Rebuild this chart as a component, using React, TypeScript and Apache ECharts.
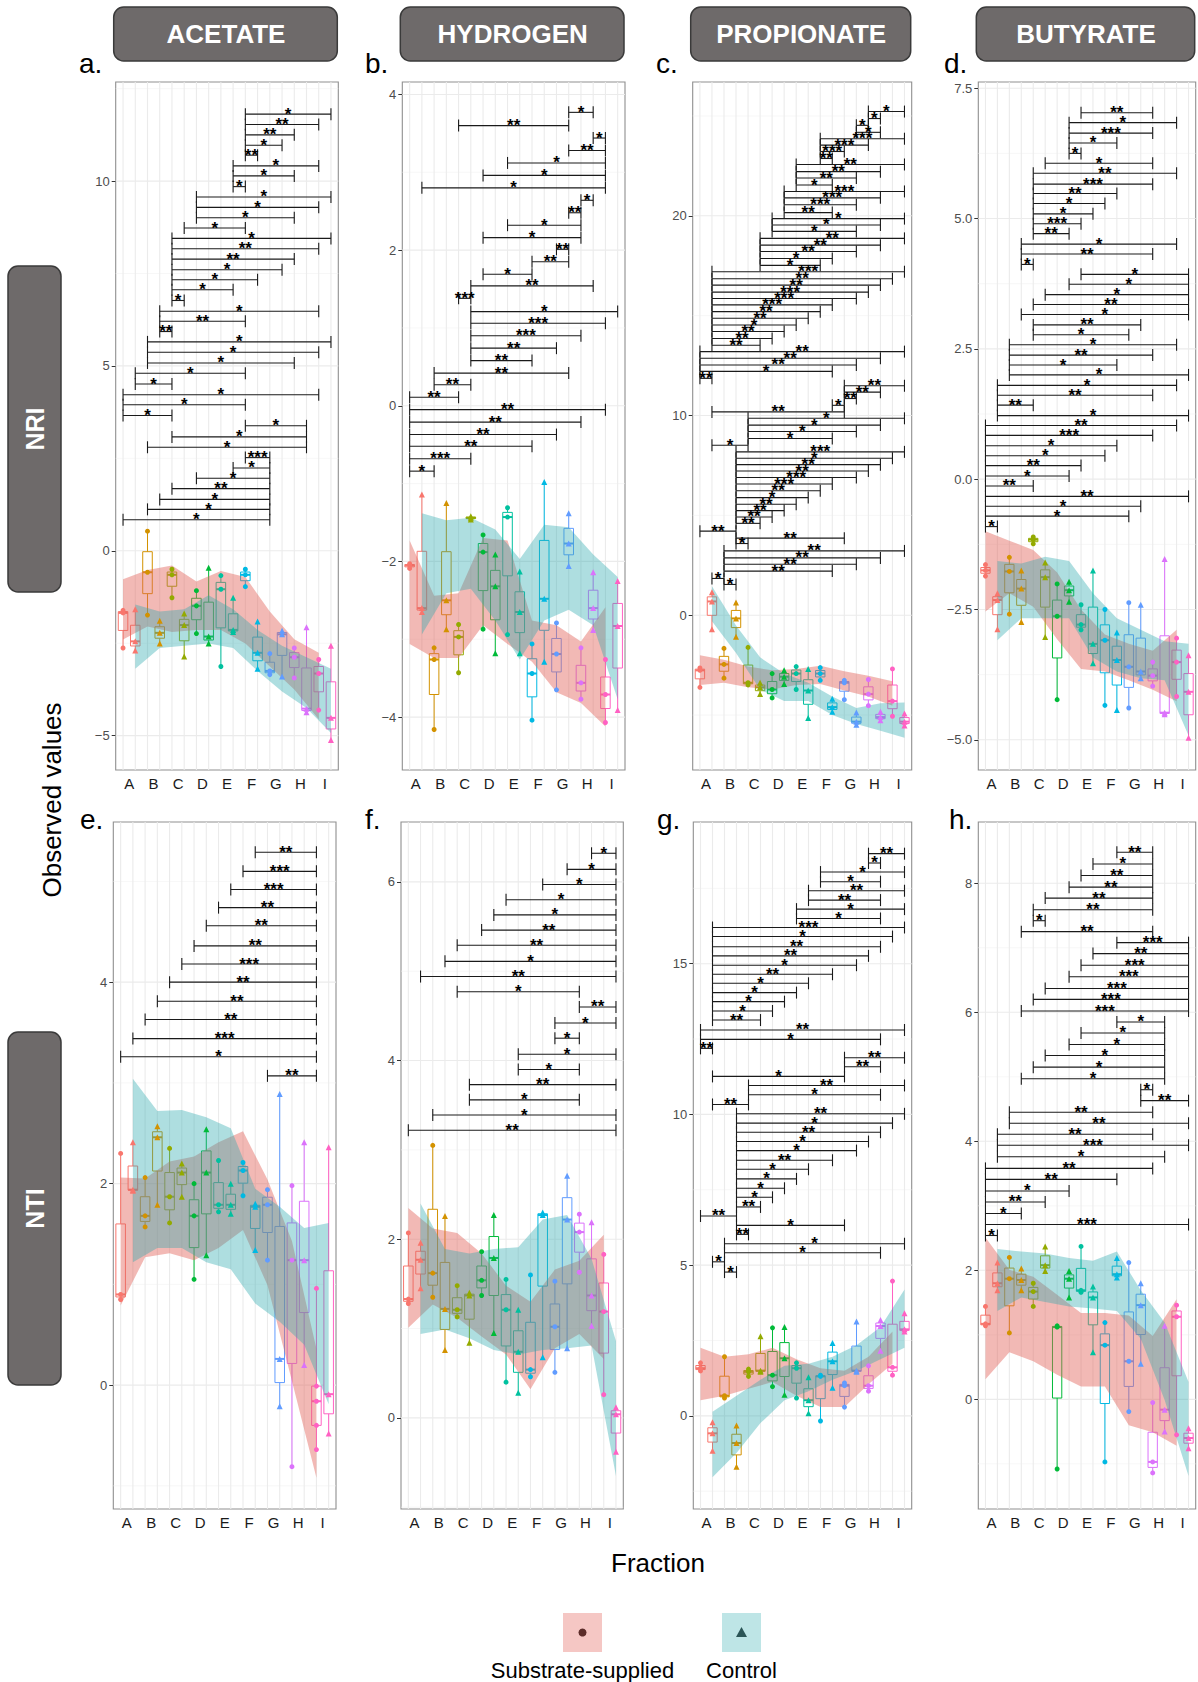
import React, { useEffect, useRef } from "react";
import * as echarts from "echarts";

const FONT = "'Liberation Sans', Arial, Helvetica, sans-serif";

// ---------------- categories / labels ----------------
const FRACTIONS = ["A", "B", "C", "D", "E", "F", "G", "H", "I"];
const FRACTION_COLORS = ["#F8766D", "#D39200", "#93AA00", "#00BA38", "#00C19F", "#00B9E3", "#619CFF", "#DB72FB", "#FF61C3"];
const TREATMENTS = ["Substrate-supplied", "Control"];
const TREATMENT_COLORS = ["#E2645B", "#2AA9AD"];
const METABOLITES = ["ACETATE", "HYDROGEN", "PROPIONATE", "BUTYRATE"];
const INDICES = ["NRI", "NTI"];
const PANEL_LETTERS = ["a.", "b.", "c.", "d.", "e.", "f.", "g.", "h."];
const X_TITLE = "Fraction";
const Y_TITLE = "Observed values";

// Observations: 18 groups per panel, ordered A-substrate, A-control, B-substrate, B-control, ...
// Ribbons: one value per fraction (A..I). Significance: [y, fromGroup, toGroup, label] (groups 1..18)

// ---------- a. ACETATE / NRI ----------
const ACETATE_NRI_VALUES = [
  [-2.63, -1.68, -1.61], [-2.70, -2.45, -1.58], [-1.74, -0.58, 0.53], [-2.51, -2.22, -1.89],
  [-1.27, -0.65, -0.50], [-2.86, -2.01, -1.70], [-2.24, -1.49, -1.08], [-2.51, -2.32, -0.46],
  [-3.13, -1.04, -0.67], [-2.20, -2.14, -1.27], [-0.97, -0.65, -0.50], [-3.19, -2.76, -1.91],
  [-3.35, -3.25, -2.78], [-3.40, -2.26, -2.16], [-3.44, -2.88, -2.63], [-4.37, -4.27, -2.07],
  [-4.31, -3.32, -2.94], [-5.12, -4.52, -2.57],
];
const ACETATE_NRI_SUB_HIGH = [-0.77, -0.52, -0.40, -0.83, -0.55, -0.71, -1.64, -2.39, -2.76];
const ACETATE_NRI_SUB_LOW = [-2.40, -2.05, -2.20, -2.14, -2.14, -2.51, -3.13, -3.75, -4.56];
const ACETATE_NRI_CTRL_HIGH = [-1.45, -1.64, -1.58, -1.20, -1.58, -2.14, -2.57, -2.88, -3.19];
const ACETATE_NRI_CTRL_LOW = [-3.19, -2.63, -2.57, -2.51, -2.63, -3.25, -3.81, -4.25, -4.93];
const ACETATE_NRI_SIG: [number, number, number, string][] = [
  [11.81, 11, 18, "*"], [11.53, 11, 17, "**"], [11.25, 11, 15, "**"], [10.97, 11, 14, "*"], [10.70, 11, 12, "**"],
  [10.41, 10, 17, "*"], [10.14, 10, 15, "*"], [9.85, 10, 11, "*"], [9.57, 7, 18, "*"], [9.29, 7, 17, "*"],
  [9.01, 7, 15, "*"], [8.73, 6, 11, "*"], [8.45, 5, 18, "*"], [8.17, 5, 17, "**"], [7.89, 5, 15, "**"],
  [7.60, 5, 14, "*"], [7.33, 5, 12, "*"], [7.06, 5, 10, "*"], [6.77, 5, 6, "*"], [6.48, 4, 17, "*"],
  [6.21, 4, 11, "**"], [5.93, 4, 5, "**"], [5.65, 3, 18, "*"], [5.37, 3, 17, "*"], [5.08, 3, 15, "*"],
  [4.80, 2, 11, "*"], [4.51, 2, 5, "*"], [4.22, 1, 17, "*"], [3.95, 1, 11, "*"], [3.66, 1, 5, "*"],
  [3.38, 11, 16, "*"], [3.08, 5, 16, "*"], [2.80, 3, 16, "*"], [2.52, 11, 13, "***"], [2.24, 10, 13, "*"],
  [1.96, 7, 13, "*"], [1.68, 5, 13, "**"], [1.39, 4, 13, "*"], [1.12, 3, 13, "*"], [0.84, 1, 13, "*"],
];
const ACETATE_NRI_TICKS = [-5, 0, 5, 10];
const ACETATE_NRI_MINOR = [-2.5, 2.5, 7.5, 12.5];
const ACETATE_NRI_RANGE = [-5.93, 12.68];

// ---------- b. HYDROGEN / NRI ----------
const HYDROGEN_NRI_VALUES = [
  [-2.09, -2.05, -2.03], [-2.65, -2.60, -1.14], [-4.16, -3.26, -3.11], [-2.87, -2.50, -1.25],
  [-3.43, -2.97, -2.81], [-1.46, -1.44, -1.42], [-2.87, -1.88, -1.66], [-3.18, -2.32, -1.91],
  [-2.94, -1.43, -1.31], [-3.18, -2.65, -2.13], [-4.04, -3.44, -3.06], [-3.29, -2.48, -0.98],
  [-3.65, -3.19, -2.79], [-2.06, -1.77, -1.38], [-3.77, -3.56, -3.11], [-2.88, -2.60, -2.14],
  [-4.07, -3.71, -3.26], [-3.91, -2.83, -2.25],
];
const HYDROGEN_NRI_SUB_HIGH = [-1.73, -2.44, -2.41, -1.70, -1.73, -2.76, -2.82, -3.03, -2.59];
const HYDROGEN_NRI_SUB_LOW = [-3.06, -3.24, -3.24, -2.82, -3.06, -3.29, -3.68, -3.82, -4.12];
const HYDROGEN_NRI_CTRL_HIGH = [-1.38, -1.47, -1.44, -1.59, -1.97, -1.53, -1.56, -1.91, -2.20];
const HYDROGEN_NRI_CTRL_LOW = [-2.94, -2.41, -2.35, -2.76, -3.26, -2.76, -2.62, -2.82, -3.77];
const HYDROGEN_NRI_SIG: [number, number, number, string][] = [
  [3.77, 14, 16, "*"], [3.60, 5, 14, "**"], [3.44, 16, 17, "*"], [3.28, 14, 17, "**"], [3.12, 9, 17, "*"],
  [2.96, 7, 17, "*"], [2.80, 2, 17, "*"], [2.64, 15, 16, "*"], [2.48, 14, 15, "**"], [2.32, 9, 15, "*"],
  [2.16, 7, 15, "*"], [2.01, 13, 14, "**"], [1.85, 11, 14, "**"], [1.69, 7, 11, "*"], [1.54, 6, 16, "**"],
  [1.38, 5, 6, "***"], [1.21, 6, 18, "*"], [1.06, 6, 17, "***"], [0.90, 6, 15, "***"], [0.74, 6, 13, "**"],
  [0.58, 6, 11, "**"], [0.42, 3, 14, "**"], [0.27, 3, 6, "**"], [0.11, 1, 5, "**"], [-0.05, 1, 17, "**"],
  [-0.21, 1, 15, "**"], [-0.37, 1, 13, "**"], [-0.52, 1, 11, "**"], [-0.68, 1, 6, "***"], [-0.84, 1, 3, "*"],
];
const HYDROGEN_NRI_TICKS = [-4, -2, 0, 2, 4];
const HYDROGEN_NRI_MINOR = [-3, -1, 1, 3];
const HYDROGEN_NRI_RANGE = [-4.68, 4.16];

// ---------- c. PROPIONATE / NRI ----------
const PROPIONATE_NRI_VALUES = [
  [-3.61, -2.76, -2.64], [-0.70, 0.69, 1.15], [-3.15, -2.46, -1.66], [-1.08, -0.16, 0.64],
  [-3.49, -3.38, -1.61], [-3.95, -3.61, -3.38], [-4.14, -3.72, -2.92], [-3.45, -3.08, -2.76],
  [-3.72, -2.92, -2.57], [-5.15, -3.77, -2.69], [-3.26, -2.92, -2.62], [-4.83, -4.60, -4.18],
  [-4.23, -3.38, -3.26], [-5.49, -5.33, -4.87], [-4.53, -3.95, -3.22], [-5.26, -5.10, -4.83],
  [-5.06, -4.30, -2.69], [-5.52, -5.33, -4.92],
];
const PROPIONATE_NRI_SUB_HIGH = [-2.00, -2.23, -2.57, -2.76, -2.69, -2.53, -2.80, -3.03, -3.31];
const PROPIONATE_NRI_SUB_LOW = [-3.49, -3.38, -3.61, -3.72, -3.49, -3.45, -3.77, -4.07, -4.53];
const PROPIONATE_NRI_CTRL_HIGH = [1.45, -0.51, -2.11, -2.92, -3.38, -4.07, -4.64, -4.41, -4.37];
const PROPIONATE_NRI_CTRL_LOW = [-0.30, -1.89, -3.72, -4.30, -4.30, -4.99, -5.45, -5.79, -6.14];
const PROPIONATE_NRI_SIG: [number, number, number, string][] = [
  [25.22, 15, 18, "*"], [24.87, 15, 16, "*"], [24.53, 14, 15, "*"], [24.18, 14, 16, "*"], [23.86, 11, 18, "***"],
  [23.54, 11, 15, "***"], [23.22, 11, 13, "***"], [22.87, 11, 12, "**"], [22.57, 9, 18, "**"], [22.21, 9, 16, "**"],
  [21.89, 9, 14, "**"], [21.54, 9, 12, "*"], [21.22, 8, 18, "***"], [20.90, 8, 16, "***"], [20.55, 8, 14, "***"],
  [20.16, 8, 12, "**"], [19.86, 7, 18, "*"], [19.54, 7, 16, "*"], [19.22, 7, 14, "*"], [18.87, 6, 18, "**"],
  [18.53, 6, 16, "**"], [18.21, 6, 14, "**"], [17.86, 6, 12, "*"], [17.52, 6, 11, "*"], [17.20, 2, 18, "***"],
  [16.85, 2, 17, "**"], [16.53, 2, 16, "**"], [16.18, 2, 15, "***"], [15.86, 2, 14, "***"], [15.54, 2, 12, "***"],
  [15.20, 2, 11, "**"], [14.87, 2, 10, "**"], [14.53, 2, 9, "*"], [14.21, 2, 8, "**"], [13.86, 2, 7, "**"],
  [13.52, 2, 6, "**"], [13.20, 1, 18, "**"], [12.87, 1, 16, "**"], [12.53, 1, 14, "**"], [12.21, 1, 12, "*"],
  [11.86, 1, 2, "**"], [11.49, 13, 18, "**"], [11.17, 13, 16, "**"], [10.85, 13, 14, "**"], [10.51, 12, 13, "*"],
  [10.18, 2, 13, "**"], [9.86, 5, 18, "*"], [9.52, 5, 16, "*"], [9.20, 5, 14, "*"], [8.85, 5, 12, "*"],
  [8.51, 2, 5, "*"], [8.18, 4, 18, "***"], [7.86, 4, 17, "*"], [7.54, 4, 16, "**"], [7.22, 4, 15, "**"],
  [6.90, 4, 14, "***"], [6.57, 4, 12, "***"], [6.23, 4, 11, "**"], [5.89, 4, 10, "*"], [5.56, 4, 9, "**"],
  [5.24, 4, 8, "**"], [4.92, 4, 7, "**"], [4.60, 4, 6, "**"], [4.21, 1, 4, "**"], [3.86, 4, 13, "**"],
  [3.59, 4, 5, "*"], [3.22, 3, 18, "**"], [2.87, 3, 16, "**"], [2.55, 3, 14, "**"], [2.21, 3, 12, "**"],
  [1.84, 2, 3, "*"], [1.54, 3, 4, "*"],
];
const PROPIONATE_NRI_TICKS = [0, 10, 20];
const PROPIONATE_NRI_MINOR = [-5, 5, 15, 25];
const PROPIONATE_NRI_RANGE = [-7.75, 26.7];

// ---------- d. BUTYRATE / NRI ----------
const BUTYRATE_NRI_VALUES = [
  [-1.86, -1.75, -1.64], [-2.88, -2.32, -2.19], [-2.59, -1.77, -1.50], [-2.74, -2.10, -1.75],
  [-1.24, -1.16, -1.11], [-3.03, -1.88, -1.60], [-4.23, -2.63, -2.01], [-2.35, -2.13, -1.97],
  [-2.89, -2.79, -2.41], [-3.53, -3.16, -1.75], [-4.34, -3.09, -2.50], [-4.43, -3.47, -2.94],
  [-4.39, -3.60, -2.37], [-3.82, -3.69, -2.41], [-3.97, -3.77, -3.51], [-4.51, -4.48, -1.53],
  [-4.17, -3.51, -3.05], [-4.96, -4.08, -3.38],
];
const BUTYRATE_NRI_SUB_HIGH = [-1.00, -1.18, -1.36, -1.79, -2.50, -2.98, -3.16, -3.29, -2.89];
const BUTYRATE_NRI_SUB_LOW = [-2.54, -2.19, -2.45, -3.07, -3.64, -3.69, -3.86, -4.04, -4.26];
const BUTYRATE_NRI_CTRL_HIGH = [-1.57, -1.62, -1.49, -1.57, -2.19, -2.67, -2.89, -3.11, -3.16];
const BUTYRATE_NRI_CTRL_LOW = [-3.09, -2.67, -2.67, -2.67, -3.42, -3.69, -3.82, -3.86, -4.92];
const BUTYRATE_NRI_SIG: [number, number, number, string][] = [
  [7.03, 9, 15, "**"], [6.84, 8, 17, "*"], [6.64, 8, 15, "***"], [6.45, 8, 12, "*"], [6.25, 8, 9, "*"],
  [6.06, 6, 15, "*"], [5.87, 5, 17, "**"], [5.66, 5, 15, "***"], [5.48, 5, 12, "**"], [5.29, 5, 11, "*"],
  [5.09, 5, 10, "*"], [4.90, 5, 9, "***"], [4.71, 5, 8, "**"], [4.51, 4, 17, "*"], [4.32, 4, 15, "**"],
  [4.12, 4, 5, "*"], [3.93, 9, 18, "*"], [3.74, 8, 18, "*"], [3.54, 6, 18, "*"], [3.35, 5, 18, "**"],
  [3.16, 4, 18, "*"], [2.96, 5, 14, "**"], [2.77, 5, 13, "*"], [2.58, 3, 17, "*"], [2.38, 3, 15, "**"],
  [2.19, 3, 12, "*"], [2.00, 3, 18, "*"], [1.80, 2, 17, "*"], [1.61, 2, 15, "**"], [1.42, 2, 5, "**"],
  [1.22, 2, 18, "*"], [1.03, 1, 17, "**"], [0.84, 1, 15, "***"], [0.64, 1, 12, "*"], [0.45, 1, 11, "*"],
  [0.26, 1, 9, "**"], [0.06, 1, 8, "*"], [-0.13, 1, 5, "**"], [-0.33, 1, 18, "**"], [-0.52, 1, 14, "*"],
  [-0.71, 1, 13, "*"], [-0.91, 1, 2, "*"],
];
const BUTYRATE_NRI_TICKS = [-5, -2.5, 0, 2.5, 5, 7.5];
const BUTYRATE_NRI_MINOR = [-3.75, -1.25, 1.25, 3.75, 6.25];
const BUTYRATE_NRI_RANGE = [-5.58, 7.62];

// ---------- e. ACETATE / NTI ----------
const ACETATE_NTI_VALUES = [
  [0.85, 0.90, 2.30], [1.93, 1.94, 2.41], [1.57, 1.68, 2.06], [1.79, 2.46, 2.57],
  [1.61, 1.87, 2.35], [1.87, 2.11, 2.20], [1.05, 1.68, 2.00], [1.29, 2.11, 2.54],
  [1.72, 1.79, 2.23], [1.70, 1.79, 2.00], [1.88, 2.13, 2.21], [1.34, 1.77, 1.80],
  [1.24, 1.79, 1.94], [-0.21, 0.26, 2.89], [-0.81, 1.24, 1.98], [0.20, 1.24, 2.41],
  [-0.64, -0.40, -0.16, -0.01, 0.96], [-0.48, -0.09, 2.36],
];
const ACETATE_NTI_SUB_HIGH = [2.06, 2.05, 2.22, 2.27, 2.41, 2.52, 2.04, 1.43, 0.36];
const ACETATE_NTI_SUB_LOW = [0.79, 1.27, 1.31, 1.24, 1.36, 1.54, 0.99, 0.04, -0.92];
const ACETATE_NTI_CTRL_HIGH = [3.04, 2.72, 2.73, 2.66, 2.55, 1.95, 1.77, 1.56, 1.61];
const ACETATE_NTI_CTRL_LOW = [1.22, 1.36, 1.36, 1.22, 1.15, 0.81, 0.63, 0.40, -0.19];
const ACETATE_NTI_SIG: [number, number, number, string][] = [
  [5.29, 12, 17, "**"], [5.10, 11, 17, "***"], [4.92, 10, 17, "***"], [4.74, 9, 17, "**"], [4.56, 8, 17, "**"],
  [4.36, 7, 17, "**"], [4.18, 6, 17, "***"], [4.00, 5, 17, "**"], [3.81, 4, 17, "**"], [3.63, 3, 17, "**"],
  [3.44, 2, 17, "***"], [3.26, 1, 17, "*"], [3.07, 13, 17, "**"],
];
const ACETATE_NTI_TICKS = [0, 2, 4];
const ACETATE_NTI_MINOR = [-1, 1, 3, 5];
const ACETATE_NTI_RANGE = [-1.23, 5.59];

// ---------- f. HYDROGEN / NTI ----------
const HYDROGEN_NTI_VALUES = [
  [1.28, 1.33, 2.07], [1.45, 1.77, 1.96], [1.35, 1.62, 3.05], [0.76, 1.22, 2.26],
  [1.13, 1.21, 1.48], [0.84, 1.37, 1.40], [1.37, 1.54, 1.86], [0.95, 1.79, 2.27],
  [0.40, 1.21, 1.55], [0.28, 0.74, 1.21], [0.46, 0.54, 1.60], [0.68, 2.27, 2.30],
  [0.51, 1.02, 1.53], [0.78, 2.22, 2.71], [1.63, 2.08, 2.28], [1.03, 1.37, 2.19],
  [0.26, 1.19, 1.83], [-0.38, 0.04, 0.12],
];
const HYDROGEN_NTI_SUB_HIGH = [2.35, 2.12, 2.07, 1.84, 1.48, 1.30, 1.66, 1.76, 2.05];
const HYDROGEN_NTI_SUB_LOW = [1.01, 1.27, 1.12, 0.91, 0.71, 0.32, 0.78, 0.94, 0.66];
const HYDROGEN_NTI_CTRL_HIGH = [2.40, 1.89, 1.84, 1.89, 1.91, 2.22, 2.27, 1.78, 0.86];
const HYDROGEN_NTI_CTRL_LOW = [0.94, 0.99, 0.89, 0.76, 0.71, 0.76, 0.78, 0.81, -0.65];
const HYDROGEN_NTI_SIG: [number, number, number, string][] = [
  [6.32, 16, 18, "*"], [6.14, 14, 18, "*"], [5.97, 12, 18, "*"], [5.80, 9, 18, "*"], [5.63, 8, 18, "*"],
  [5.46, 7, 18, "**"], [5.29, 5, 18, "**"], [5.11, 4, 18, "*"], [4.94, 2, 18, "**"], [4.77, 5, 15, "*"],
  [4.60, 15, 18, "**"], [4.42, 13, 18, "*"], [4.25, 13, 15, "*"], [4.07, 10, 18, "*"], [3.90, 10, 15, "*"],
  [3.73, 6, 18, "**"], [3.56, 6, 15, "*"], [3.39, 3, 18, "*"], [3.22, 1, 18, "**"],
];
const HYDROGEN_NTI_TICKS = [0, 2, 4, 6];
const HYDROGEN_NTI_MINOR = [-1, 1, 3, 5];
const HYDROGEN_NTI_RANGE = [-1.02, 6.67];

// ---------- g. PROPIONATE / NTI ----------
const PROPIONATE_NTI_VALUES = [
  [1.49, 1.58, 1.76], [-1.16, -0.58, -0.21], [0.59, 0.67, 1.96], [-1.69, -0.90, -0.32],
  [1.31, 1.46, 1.55], [1.46, 1.50, 2.64], [0.97, 1.35, 2.92], [0.70, 1.91, 2.95],
  [0.59, 1.58, 1.76], [0.09, 0.52, 1.28], [-0.17, 1.31, 1.35], [0.93, 1.81, 2.42],
  [0.29, 1.00, 1.09], [1.46, 1.50, 3.13], [0.82, 1.00, 1.66], [2.16, 2.98, 3.18],
  [1.35, 1.61, 4.47], [2.80, 2.87, 3.40],
];
const PROPIONATE_NTI_SUB_HIGH = [2.26, 1.96, 2.04, 2.26, 1.88, 1.58, 1.50, 1.96, 2.80];
const PROPIONATE_NTI_SUB_LOW = [0.52, 0.67, 0.90, 1.12, 0.67, 0.29, 0.29, 1.05, 1.73];
const PROPIONATE_NTI_CTRL_HIGH = [0.14, 0.67, 1.20, 1.66, 1.73, 1.96, 2.34, 2.95, 4.19];
const PROPIONATE_NTI_CTRL_LOW = [-2.04, -1.23, -0.24, 0.52, 0.82, 1.20, 1.50, 1.88, 2.26];
const PROPIONATE_NTI_SIG: [number, number, number, string][] = [
  [18.65, 15, 18, "**"], [18.34, 15, 16, "*"], [18.04, 11, 18, "*"], [17.72, 11, 16, "*"], [17.42, 10, 18, "**"],
  [17.11, 10, 16, "**"], [16.81, 9, 18, "*"], [16.50, 9, 16, "*"], [16.20, 2, 18, "***"], [15.90, 2, 17, "*"],
  [15.56, 2, 16, "**"], [15.26, 2, 15, "**"], [14.95, 2, 14, "*"], [14.65, 2, 12, "**"], [14.35, 2, 10, "*"],
  [14.04, 2, 9, "*"], [13.74, 2, 8, "*"], [13.43, 2, 7, "*"], [13.13, 2, 6, "**"], [12.80, 1, 18, "**"],
  [12.49, 1, 16, "*"], [12.19, 1, 2, "**"], [11.88, 13, 18, "**"], [11.58, 13, 16, "**"], [11.26, 2, 13, "*"],
  [10.96, 5, 18, "**"], [10.65, 5, 16, "*"], [10.33, 2, 5, "**"], [10.02, 4, 18, "**"], [9.71, 4, 17, "*"],
  [9.41, 4, 16, "**"], [9.10, 4, 15, "*"], [8.80, 4, 14, "*"], [8.48, 4, 12, "**"], [8.18, 4, 10, "*"],
  [7.86, 4, 9, "*"], [7.55, 4, 8, "*"], [7.25, 4, 7, "*"], [6.93, 4, 6, "**"], [6.63, 1, 4, "**"],
  [6.32, 4, 13, "*"], [6.02, 4, 5, "**"], [5.71, 3, 18, "*"], [5.41, 3, 16, "*"], [5.11, 2, 3, "*"],
  [4.77, 3, 4, "*"],
];
const PROPIONATE_NTI_TICKS = [0, 5, 10, 15];
const PROPIONATE_NTI_MINOR = [-2.5, 2.5, 7.5, 12.5, 17.5];
const PROPIONATE_NTI_RANGE = [-3.09, 19.7];

// ---------- h. BUTYRATE / NTI ----------
const BUTYRATE_NTI_VALUES = [
  [1.14, 1.17, 1.44], [1.69, 1.80, 2.12], [1.03, 1.87, 2.20], [1.69, 1.85, 2.03],
  [1.44, 1.67, 1.80], [1.99, 2.08, 2.37], [-1.08, 1.12, 1.14], [1.58, 1.87, 1.99],
  [1.66, 1.69, 2.37], [0.73, 1.58, 1.75], [-0.97, 0.84, 1.19], [1.89, 1.94, 2.19],
  [-0.19, 0.59, 2.12], [0.55, 1.46, 1.80], [-1.14, -0.97, -0.05], [-0.50, -0.16, 1.14],
  [-0.55, 1.28, 1.46], [-0.76, -0.60, -0.45],
];
const BUTYRATE_NTI_SUB_HIGH = [2.51, 2.01, 1.90, 1.62, 1.34, 1.34, 1.30, 0.98, 1.55];
const BUTYRATE_NTI_SUB_LOW = [0.31, 0.73, 0.59, 0.38, 0.20, 0.20, -0.40, -0.51, -0.72];
const BUTYRATE_NTI_CTRL_HIGH = [2.33, 2.29, 2.26, 2.19, 2.15, 2.29, 1.69, 1.19, 0.27];
const BUTYRATE_NTI_CTRL_LOW = [1.37, 1.58, 1.51, 1.44, 1.41, 1.37, 0.94, -0.01, -1.19];
const BUTYRATE_NTI_SIG: [number, number, number, string][] = [
  [8.48, 12, 15, "**"], [8.30, 10, 15, "*"], [8.12, 9, 15, "**"], [7.94, 8, 15, "**"], [7.77, 6, 15, "**"],
  [7.59, 5, 15, "**"], [7.42, 5, 6, "*"], [7.25, 4, 15, "**"], [7.08, 12, 18, "***"], [6.91, 10, 18, "**"],
  [6.73, 9, 18, "***"], [6.55, 8, 18, "***"], [6.37, 6, 18, "***"], [6.20, 5, 18, "***"], [6.02, 4, 18, "***"],
  [5.85, 12, 16, "*"], [5.68, 9, 16, "*"], [5.50, 8, 16, "*"], [5.33, 6, 16, "*"], [5.15, 5, 16, "*"],
  [4.97, 4, 16, "*"], [4.80, 14, 15, "*"], [4.63, 14, 18, "**"], [4.45, 3, 15, "**"], [4.28, 3, 18, "**"],
  [4.11, 2, 15, "**"], [3.94, 2, 18, "***"], [3.76, 2, 16, "*"], [3.58, 1, 15, "**"], [3.41, 1, 12, "**"],
  [3.23, 1, 8, "*"], [3.06, 1, 6, "**"], [2.88, 1, 4, "*"], [2.71, 1, 18, "***"], [2.54, 1, 2, "*"],
];
const BUTYRATE_NTI_TICKS = [0, 2, 4, 6, 8];
const BUTYRATE_NTI_MINOR = [-1, 1, 3, 5, 7];
const BUTYRATE_NTI_RANGE = [-1.70, 8.95];

// ---------------- assembly ----------------
const PANELS = [
  { values: ACETATE_NRI_VALUES, subHigh: ACETATE_NRI_SUB_HIGH, subLow: ACETATE_NRI_SUB_LOW, ctrlHigh: ACETATE_NRI_CTRL_HIGH, ctrlLow: ACETATE_NRI_CTRL_LOW, sig: ACETATE_NRI_SIG, ticks: ACETATE_NRI_TICKS, minor: ACETATE_NRI_MINOR, range: ACETATE_NRI_RANGE, decimals: 0 },
  { values: HYDROGEN_NRI_VALUES, subHigh: HYDROGEN_NRI_SUB_HIGH, subLow: HYDROGEN_NRI_SUB_LOW, ctrlHigh: HYDROGEN_NRI_CTRL_HIGH, ctrlLow: HYDROGEN_NRI_CTRL_LOW, sig: HYDROGEN_NRI_SIG, ticks: HYDROGEN_NRI_TICKS, minor: HYDROGEN_NRI_MINOR, range: HYDROGEN_NRI_RANGE, decimals: 0 },
  { values: PROPIONATE_NRI_VALUES, subHigh: PROPIONATE_NRI_SUB_HIGH, subLow: PROPIONATE_NRI_SUB_LOW, ctrlHigh: PROPIONATE_NRI_CTRL_HIGH, ctrlLow: PROPIONATE_NRI_CTRL_LOW, sig: PROPIONATE_NRI_SIG, ticks: PROPIONATE_NRI_TICKS, minor: PROPIONATE_NRI_MINOR, range: PROPIONATE_NRI_RANGE, decimals: 0 },
  { values: BUTYRATE_NRI_VALUES, subHigh: BUTYRATE_NRI_SUB_HIGH, subLow: BUTYRATE_NRI_SUB_LOW, ctrlHigh: BUTYRATE_NRI_CTRL_HIGH, ctrlLow: BUTYRATE_NRI_CTRL_LOW, sig: BUTYRATE_NRI_SIG, ticks: BUTYRATE_NRI_TICKS, minor: BUTYRATE_NRI_MINOR, range: BUTYRATE_NRI_RANGE, decimals: 1 },
  { values: ACETATE_NTI_VALUES, subHigh: ACETATE_NTI_SUB_HIGH, subLow: ACETATE_NTI_SUB_LOW, ctrlHigh: ACETATE_NTI_CTRL_HIGH, ctrlLow: ACETATE_NTI_CTRL_LOW, sig: ACETATE_NTI_SIG, ticks: ACETATE_NTI_TICKS, minor: ACETATE_NTI_MINOR, range: ACETATE_NTI_RANGE, decimals: 0 },
  { values: HYDROGEN_NTI_VALUES, subHigh: HYDROGEN_NTI_SUB_HIGH, subLow: HYDROGEN_NTI_SUB_LOW, ctrlHigh: HYDROGEN_NTI_CTRL_HIGH, ctrlLow: HYDROGEN_NTI_CTRL_LOW, sig: HYDROGEN_NTI_SIG, ticks: HYDROGEN_NTI_TICKS, minor: HYDROGEN_NTI_MINOR, range: HYDROGEN_NTI_RANGE, decimals: 0 },
  { values: PROPIONATE_NTI_VALUES, subHigh: PROPIONATE_NTI_SUB_HIGH, subLow: PROPIONATE_NTI_SUB_LOW, ctrlHigh: PROPIONATE_NTI_CTRL_HIGH, ctrlLow: PROPIONATE_NTI_CTRL_LOW, sig: PROPIONATE_NTI_SIG, ticks: PROPIONATE_NTI_TICKS, minor: PROPIONATE_NTI_MINOR, range: PROPIONATE_NTI_RANGE, decimals: 0 },
  { values: BUTYRATE_NTI_VALUES, subHigh: BUTYRATE_NTI_SUB_HIGH, subLow: BUTYRATE_NTI_SUB_LOW, ctrlHigh: BUTYRATE_NTI_CTRL_HIGH, ctrlLow: BUTYRATE_NTI_CTRL_LOW, sig: BUTYRATE_NTI_SIG, ticks: BUTYRATE_NTI_TICKS, minor: BUTYRATE_NTI_MINOR, range: BUTYRATE_NTI_RANGE, decimals: 0 },
];

// layout (pixels)
const LAYOUT = [
  { left: 115.7, top: 82, width: 222.6, height: 688, letterX: 79 },
  { left: 402.3, top: 82, width: 222.7, height: 688, letterX: 365 },
  { left: 692.7, top: 82, width: 219, height: 688, letterX: 656 },
  { left: 978.3, top: 82, width: 217.4, height: 688, letterX: 944 },
  { left: 113.3, top: 822, width: 222.7, height: 687, letterX: 80 },
  { left: 401, top: 822, width: 222.3, height: 687, letterX: 365 },
  { left: 693.3, top: 822, width: 218.4, height: 687, letterX: 657 },
  { left: 978.3, top: 822, width: 217.4, height: 687, letterX: 949 },
];
const ROW_BOXES = [
  { y: 266, h: 326 },
  { y: 1032, h: 353 },
];
const BOX_HALF = 0.39;
const RIBBON_OPACITY = [0.45, 0.38];

function quantile(sorted: number[], p: number) {
  const h = (sorted.length - 1) * p;
  const lo = Math.floor(h);
  const hi = Math.ceil(h);
  return sorted[lo] + (h - lo) * (sorted[hi] - sorted[lo]);
}

function fmt(v: number, d: number) {
  const s = Math.abs(v).toFixed(d);
  return v < 0 ? "\u2212" + s : s;
}

function buildOption() {
  const grid: any[] = [];
  const xAxis: any[] = [];
  const yAxis: any[] = [];
  const series: any[] = [];
  const groupPositions = Array.from({ length: FRACTIONS.length * 2 }, (_, i) => i + 1);
  const labelPositions = FRACTIONS.map((_, i) => 2 * i + 1.5);

  PANELS.forEach((p, k) => {
    const L = LAYOUT[k];
    grid.push({
      left: L.left, top: L.top, width: L.width, height: L.height,
      show: true, borderColor: "#8F8F8F", borderWidth: 1.1, backgroundColor: "#FFFFFF",
      containLabel: false, outerBoundsMode: "none",
    });
    xAxis.push({
      type: "value", gridIndex: k, min: 0.4, max: 18.6,
      axisLine: { show: false }, axisTick: { show: false }, splitLine: { show: false },
      axisLabel: {
        customValues: labelPositions,
        formatter: (v: number) => FRACTIONS[Math.round((v - 1.5) / 2)] ?? "",
        fontSize: 15, color: "#1A1A1A", margin: 6, fontFamily: FONT,
      },
    });
    yAxis.push({
      type: "value", gridIndex: k, min: p.range[0], max: p.range[1],
      axisLine: { show: false }, splitLine: { show: false },
      axisTick: { show: true, customValues: p.ticks, length: 4, lineStyle: { color: "#333333", width: 1 } },
      axisLabel: {
        customValues: p.ticks, formatter: (v: number) => fmt(v, p.decimals),
        fontSize: 13, color: "#4D4D4D", margin: 6, fontFamily: FONT,
      },
    });

    // grid lines
    series.push({
      type: "custom", xAxisIndex: k, yAxisIndex: k, z: 1, silent: true,
      data: [[1, p.ticks[0]]],
      renderItem: (params: any, api: any) => {
        const cs = params.coordSys;
        const children: any[] = [];
        const inRange = (v: number) => v > p.range[0] && v < p.range[1];
        p.minor.filter(inRange).forEach((v) => {
          const y = api.coord([1, v])[1];
          children.push({ type: "line", shape: { x1: cs.x, y1: y, x2: cs.x + cs.width, y2: y }, style: { stroke: "#F2F2F2", lineWidth: 0.6 } });
        });
        p.ticks.filter(inRange).forEach((v) => {
          const y = api.coord([1, v])[1];
          children.push({ type: "line", shape: { x1: cs.x, y1: y, x2: cs.x + cs.width, y2: y }, style: { stroke: "#EBEBEB", lineWidth: 1.1 } });
        });
        groupPositions.forEach((x) => {
          const px = api.coord([x, p.range[0]])[0];
          children.push({ type: "line", shape: { x1: px, y1: cs.y, x2: px, y2: cs.y + cs.height }, style: { stroke: "#EBEBEB", lineWidth: 1.1 } });
        });
        return { type: "group", children };
      },
    });

    // boxes
    const boxData = p.values.map((vals, i) => {
      const s = [...vals].sort((a, b) => a - b);
      return [i + 1, s[0], quantile(s, 0.25), quantile(s, 0.5), quantile(s, 0.75), s[s.length - 1], Math.floor(i / 2)];
    });
    series.push({
      type: "custom", xAxisIndex: k, yAxisIndex: k, z: 2, silent: true,
      data: boxData,
      renderItem: (params: any, api: any) => {
        const x = api.value(0);
        const color = FRACTION_COLORS[api.value(6)];
        const pLo = api.coord([x, api.value(1)]);
        const pQ1 = api.coord([x, api.value(2)]);
        const pMed = api.coord([x, api.value(3)]);
        const pQ3 = api.coord([x, api.value(4)]);
        const pHi = api.coord([x, api.value(5)]);
        const hw = api.size([BOX_HALF, 0])[0];
        return {
          type: "group",
          children: [
            { type: "line", shape: { x1: pLo[0], y1: pLo[1], x2: pQ1[0], y2: pQ1[1] }, style: { stroke: color, lineWidth: 1 } },
            { type: "line", shape: { x1: pQ3[0], y1: pQ3[1], x2: pHi[0], y2: pHi[1] }, style: { stroke: color, lineWidth: 1 } },
            { type: "rect", shape: { x: pQ3[0] - hw, y: pQ3[1], width: 2 * hw, height: Math.max(pQ1[1] - pQ3[1], 0.5) }, style: { fill: "#FFFFFF", stroke: color, lineWidth: 1 } },
            { type: "line", shape: { x1: pMed[0] - hw, y1: pMed[1], x2: pMed[0] + hw, y2: pMed[1] }, style: { stroke: color, lineWidth: 2 } },
          ],
        };
      },
    });

    // ribbons (control drawn over substrate)
    const ribbons = [
      { high: p.subHigh, low: p.subLow, offset: 1, color: TREATMENT_COLORS[0], opacity: RIBBON_OPACITY[0] },
      { high: p.ctrlHigh, low: p.ctrlLow, offset: 2, color: TREATMENT_COLORS[1], opacity: RIBBON_OPACITY[1] },
    ];
    ribbons.forEach((r) => {
      series.push({
        type: "custom", xAxisIndex: k, yAxisIndex: k, z: 4, silent: true,
        data: r.high.map((h, i) => [2 * i + r.offset, h, r.low[i]]),
        renderItem: (params: any, api: any) => {
          if (params.dataIndex !== 0) return null;
          const pts: number[][] = [];
          r.high.forEach((h, i) => pts.push(api.coord([2 * i + r.offset, h])));
          for (let i = r.low.length - 1; i >= 0; i--) pts.push(api.coord([2 * i + r.offset, r.low[i]]));
          return { type: "polygon", shape: { points: pts }, style: { fill: r.color, opacity: r.opacity } };
        },
      });
    });

    // points
    [0, 1].forEach((t) => {
      const pts: number[][] = [];
      p.values.forEach((vals, i) => {
        if (i % 2 !== t) return;
        vals.forEach((v) => pts.push([i + 1, v, Math.floor(i / 2)]));
      });
      series.push({
        type: "scatter", xAxisIndex: k, yAxisIndex: k, z: 5, silent: true,
        symbol: t === 0 ? "circle" : "triangle",
        symbolSize: t === 0 ? 5 : 6,
        data: pts,
        itemStyle: { color: (d: any) => FRACTION_COLORS[d.value[2]], opacity: 1 },
      });
    });

    // significance brackets
    series.push({
      type: "custom", xAxisIndex: k, yAxisIndex: k, z: 6, silent: true,
      data: p.sig.map((s) => [s[1], s[2], s[0]]),
      renderItem: (params: any, api: any) => {
        const y = api.value(2);
        const a = api.coord([api.value(0), y]);
        const b = api.coord([api.value(1), y]);
        const label = p.sig[params.dataIndex][3];
        const st = { stroke: "#1A1A1A", lineWidth: 1.1 };
        return {
          type: "group",
          children: [
            { type: "line", shape: { x1: a[0], y1: a[1], x2: b[0], y2: b[1] }, style: st },
            { type: "line", shape: { x1: a[0], y1: a[1] - 6, x2: a[0], y2: a[1] + 6 }, style: st },
            { type: "line", shape: { x1: b[0], y1: b[1] - 6, x2: b[0], y2: b[1] + 6 }, style: st },
            {
              type: "text", x: (a[0] + b[0]) / 2, y: a[1],
              style: { text: label, fill: "#000000", font: `bold 17px ${FONT}`, align: "center", verticalAlign: "middle", textAlign: "center", textVerticalAlign: "middle" },
            },
          ],
        };
      },
    });
  });

  // ------------ decorations ------------
  const textStyle = (text: string, font: string, fill = "#000000") => ({
    text, font, fill, align: "center", verticalAlign: "middle", textAlign: "center", textVerticalAlign: "middle",
  });
  const graphic: any[] = [];
  METABOLITES.forEach((m, j) => {
    const L = LAYOUT[j];
    graphic.push({ type: "rect", shape: { x: L.left - 2, y: 7, width: L.width + 1, height: 54, r: 10 }, style: { fill: "#6E6A6A", stroke: "#3A3A3A", lineWidth: 1.5 } });
    graphic.push({ type: "text", x: L.left + L.width / 2 - 1, y: 34, style: textStyle(m, `bold 26px ${FONT}`, "#FFFFFF") });
  });
  INDICES.forEach((lab, r) => {
    const B = ROW_BOXES[r];
    graphic.push({ type: "rect", shape: { x: 8, y: B.y, width: 53, height: B.h, r: 10 }, style: { fill: "#6E6A6A", stroke: "#3A3A3A", lineWidth: 1.5 } });
    graphic.push({ type: "text", x: 34.5, y: B.y + B.h / 2, rotation: Math.PI / 2, style: textStyle(lab, `bold 25px ${FONT}`, "#FFFFFF") });
  });
  PANEL_LETTERS.forEach((lt, k) => {
    const L = LAYOUT[k];
    const baseline = k < 4 ? 73 : 829;
    graphic.push({ type: "text", x: L.letterX, y: baseline - 10, style: { text: lt, font: `28px ${FONT}`, fill: "#000000", align: "left", verticalAlign: "middle", textAlign: "left", textVerticalAlign: "middle" } });
  });
  graphic.push({ type: "text", x: 52, y: 800, rotation: Math.PI / 2, style: textStyle(Y_TITLE, `26px ${FONT}`) });
  graphic.push({ type: "text", x: 658, y: 1563, style: textStyle(X_TITLE, `26px ${FONT}`) });
  // legend
  const legendX = [563, 722];
  TREATMENTS.forEach((t, i) => {
    const x0 = legendX[i];
    graphic.push({ type: "rect", shape: { x: x0, y: 1613, width: 39, height: 39 }, style: { fill: TREATMENT_COLORS[i], opacity: RIBBON_OPACITY[i] * 0.8 } });
    if (i === 0) {
      graphic.push({ type: "circle", shape: { cx: x0 + 19.5, cy: 1632.5, r: 4 }, style: { fill: "#5C2D2A" } });
    } else {
      graphic.push({ type: "polygon", shape: { points: [[x0 + 19.5, 1627], [x0 + 25, 1637], [x0 + 14, 1637]] }, style: { fill: "#2B5556" } });
    }
    graphic.push({ type: "text", x: x0 + 19.5, y: 1670, style: textStyle(t, `22px ${FONT}`) });
  });

  return {
    animation: false,
    backgroundColor: "#FFFFFF",
    textStyle: { fontFamily: FONT },
    grid, xAxis, yAxis, series, graphic,
  };
}

export default function App() {
  const ref = useRef<HTMLDivElement>(null);
  useEffect(() => {
    document.body.style.margin = "0";
    const chart = echarts.init(ref.current as HTMLDivElement, undefined, { renderer: "svg" });
    chart.setOption(buildOption() as any);
    return () => chart.dispose();
  }, []);
  return <div ref={ref} style={{ width: 1198, height: 1682 }} />;
}
